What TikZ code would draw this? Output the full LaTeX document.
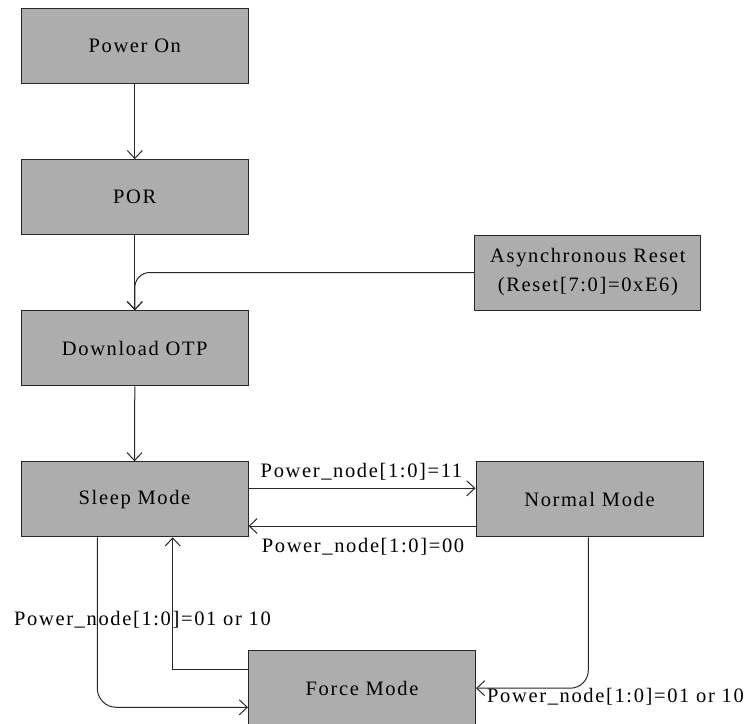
\documentclass[tikz,border=0pt]{standalone}
\usepackage{fontspec}
\setmainfont{Liberation Serif}[LetterSpace=8]
\usetikzlibrary{arrows.meta}
\definecolor{boxgray}{RGB}{173,173,173}
\definecolor{edgec}{RGB}{40,40,40}
\tikzset{
  statebox/.style={draw=edgec, line width=1pt, fill=boxgray, minimum width=227pt, minimum height=75pt, inner sep=0pt, font=\fontsize{20.5}{29}\selectfont, align=center},
  conn/.style={draw=edgec, line width=1pt, -{Straight Barb[length=8pt,width=15pt,line width=1pt]}},
  lbl/.style={font=\fontsize{20.5}{24}\selectfont, inner sep=0pt}
}
\begin{document}
\begin{tikzpicture}[x=1pt,y=-1pt]
\useasboundingbox (0,0) rectangle (749,723);
\clip (0,0) rectangle (749,723);
\node[statebox] (pon) at (134.8,45.7) {Power On};
\node[statebox] (por) at (134.8,197.2) {POR};
\node[statebox] (otp) at (134.8,348.3) {Download OTP};
\node[statebox, minimum width=226pt] (async) at (587.9,272.5) {Asynchronous Reset\\(Reset[7:0]=0xE6)};
\node[statebox] (sleep) at (134.5,499.3) {Sleep Mode};
\node[statebox] (normal) at (589.5,499.3) {Normal Mode};
\node[statebox] (force) at (362,688.2) {Force Mode};

\draw[conn] (pon.south) -- (por.north);
\draw[conn] (por.south) -- (otp.north);
\draw[conn, rounded corners=15pt] (async.west) -| (otp.north);
\draw[conn] (otp.south) -- (sleep.north);
\draw[conn] ([yshift=11pt]sleep.east) -- ([yshift=11pt]normal.west);
\draw[conn] ([yshift=-26.7pt]normal.west) -- ([yshift=-26.7pt]sleep.east);
\draw[conn, rounded corners=19pt] ([xshift=-37.2pt]sleep.south) |- ([yshift=-19.1pt]force.west);
\draw[conn] ([yshift=18.9pt]force.west) -| ([xshift=38.2pt]sleep.south);
\draw[conn, rounded corners=18pt] ([xshift=-1.2pt]normal.south) |- (force.east);

\node[lbl] (l1) at (361.5,471.7) {Power\_node[1:0]=11};
\node[lbl] (l2) at (363,547) {Power\_node[1:0]=00};
\node[lbl] (l3) at (142.5,620) {Power\_node[1:0]=01 or 10};
\node[lbl] (l4) at (615.5,697) {Power\_node[1:0]=01 or 10};
\end{tikzpicture}
\end{document}
